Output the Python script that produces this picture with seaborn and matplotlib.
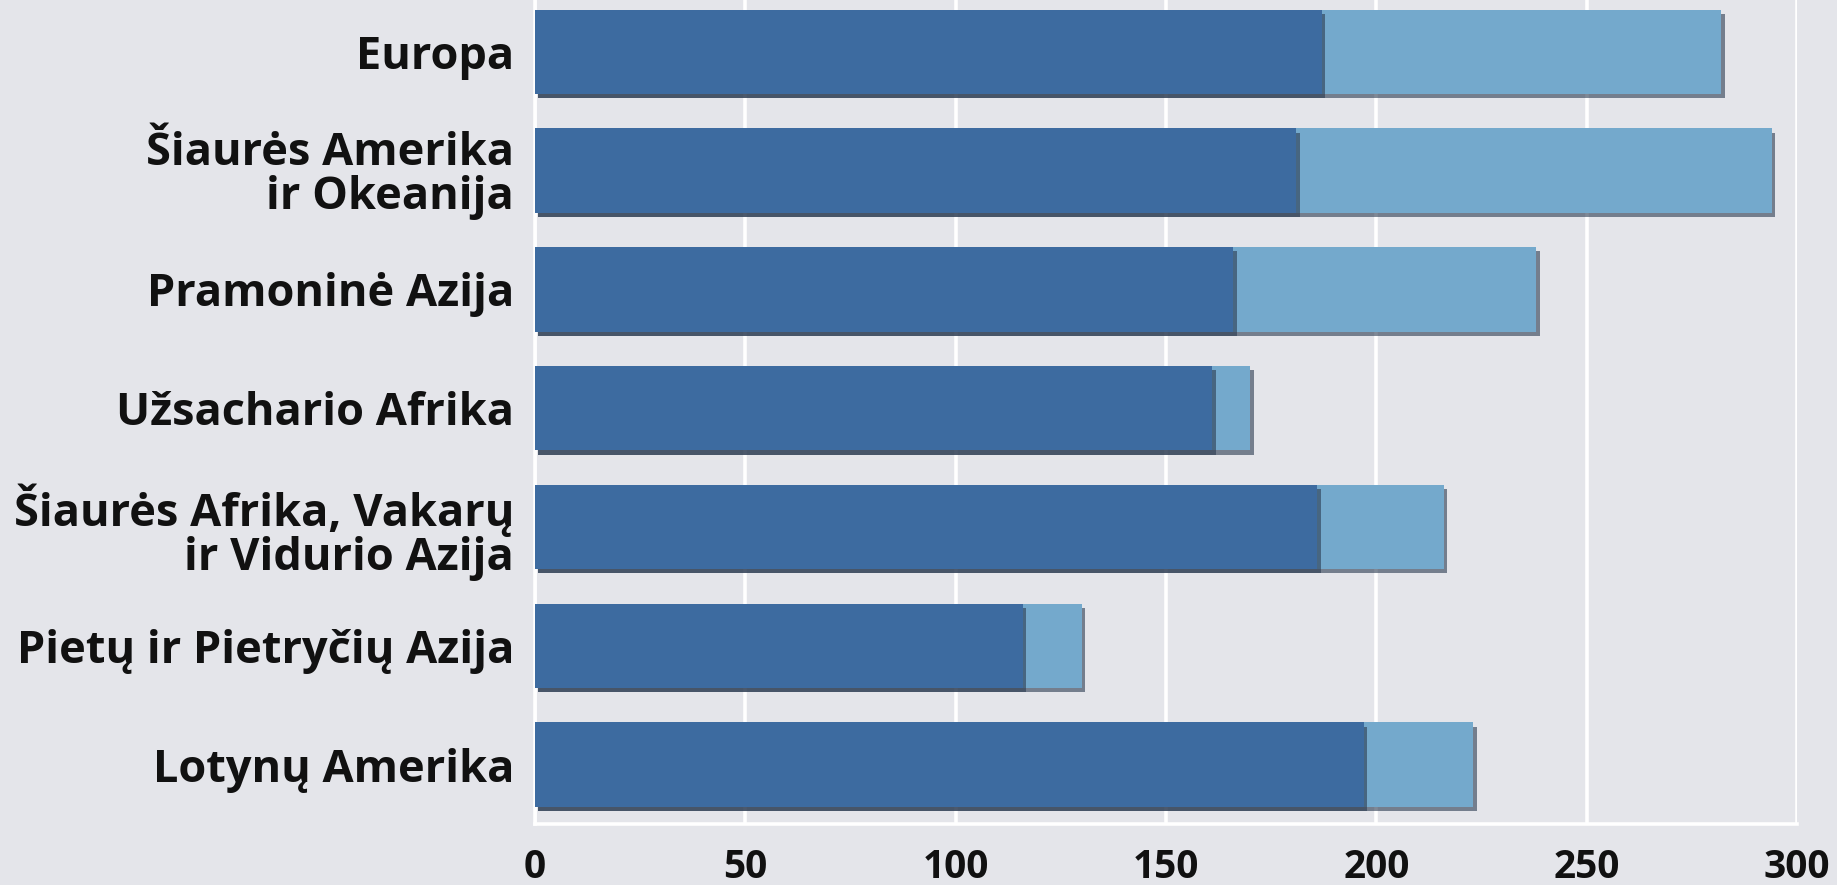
import matplotlib
matplotlib.use("Agg")
import matplotlib.pyplot as plt
import matplotlib.patheffects as pe
from matplotlib import font_manager
import seaborn as sns
import pandas as pd

regions = [
    "Europa",
    "Šiaurės Amerika\nir Okeanija",
    "Pramoninė Azija",
    "Užsachario Afrika",
    "Šiaurės Afrika, Vakarų\nir Vidurio Azija",
    "Pietų ir Pietryčių Azija",
    "Lotynų Amerika",
]
dark_values = [187, 181, 166, 161, 186, 116, 197]
total_values = [282, 294, 238, 170, 216, 130, 223]
x_ticks = [0, 50, 100, 150, 200, 250, 300]

BG = "#e4e5ea"
DARK = "#3d6ba0"
LIGHT = "#74a9cc"

available = {f.name for f in font_manager.fontManager.ttflist}
family = "Open Sans" if "Open Sans" in available else "DejaVu Sans"

sns.set_theme(style="white")
plt.rcParams["font.family"] = [family, "DejaVu Sans"]

df = pd.DataFrame({"region": regions, "dark": dark_values, "total": total_values})

W, H = 1837, 885
fig = plt.figure(figsize=(W / 100, H / 100), dpi=100, facecolor=BG)
ax = fig.add_axes([535 / W, 1 - 824 / H, (1797 - 535) / W, 7 * 118.8 / H])
ax.set_facecolor(BG)

shadow = [pe.SimplePatchShadow(offset=(2.5, -3), shadow_rgbFace="#2a3a50", alpha=0.6), pe.Normal()]

sns.barplot(data=df, y="region", x="total", orient="h", color=LIGHT, width=0.71,
            saturation=1, ax=ax, order=regions)
sns.barplot(data=df, y="region", x="dark", orient="h", color=DARK, width=0.71,
            saturation=1, ax=ax, order=regions)
for p in ax.patches:
    p.set_path_effects(shadow)
    p.set_edgecolor("none")
    p.set_zorder(3)

ax.set_xlim(0, 300)
ax.set_ylim(6.5, -0.5)
ax.set_xticks(x_ticks)
ax.set_xticklabels([str(v) for v in x_ticks])
ax.xaxis.grid(True, color="white", linewidth=2.6, zorder=1)
ax.set_axisbelow(True)
for s in ["top", "right"]:
    ax.spines[s].set_visible(False)
for s in ["left", "bottom"]:
    ax.spines[s].set_color("white")
    ax.spines[s].set_linewidth(2.6)
ax.set_xlabel("")
ax.set_ylabel("")
ax.tick_params(axis="both", length=0)
ax.tick_params(axis="x", pad=17, labelsize=28)
ax.tick_params(axis="y", pad=15, labelsize=32.5)
for lbl in ax.get_yticklabels():
    lbl.set_fontweight("bold")
    lbl.set_linespacing(0.97)
    lbl.set_color("#111111")
for lbl in ax.get_xticklabels():
    lbl.set_fontweight("bold")
    lbl.set_color("#111111")

fig.savefig("out.png", dpi=100, facecolor=BG)
